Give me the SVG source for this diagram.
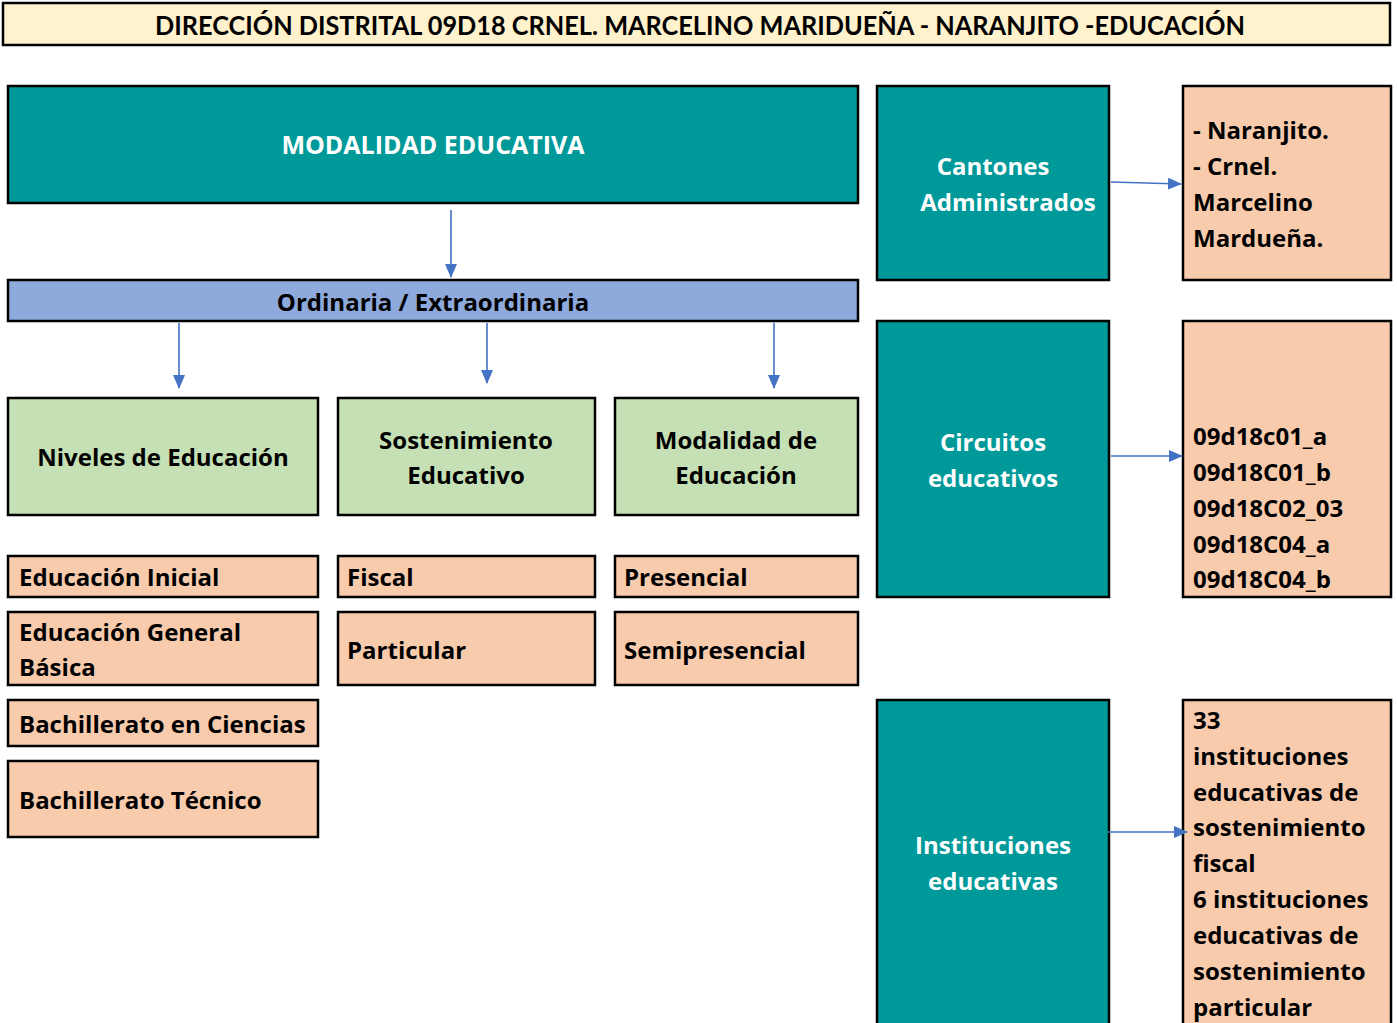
<svg xmlns="http://www.w3.org/2000/svg" width="1397" height="1023" viewBox="0 0 1397 1023">
<style>
.b{stroke:#000;stroke-width:2.5}
.teal{fill:#009999}
.peach{fill:#F8CBAD}
.green{fill:#C5E0B4}
.blue{fill:#8EA9DB}
.t{font-family:"Open Sans",Lato,"Liberation Sans",sans-serif;font-weight:bold;font-size:24px;fill:#000}
.w{fill:#fff}
.c{text-anchor:middle}
.con{stroke:#4472C4;stroke-width:1.6;fill:none;marker-end:url(#ah)}
</style>
<defs>
<marker id="ah" markerWidth="14" markerHeight="12" refX="13" refY="6" orient="auto" markerUnits="userSpaceOnUse" viewBox="0 0 14 12">
<path d="M0,0 L14,6 L0,12 z" fill="#4472C4"/>
</marker>
</defs>
<rect width="1397" height="1023" fill="#fff"/>
<g id="title"><rect class="b" x="3" y="3" width="1387" height="42" fill="#FFF2CC"/><text class="t c" x="700" y="35" style="font-family:Lato,'Liberation Sans',sans-serif;font-size:26px" textLength="1090" lengthAdjust="spacingAndGlyphs">DIRECCIÓN DISTRITAL 09D18 CRNEL. MARCELINO MARIDUEÑA - NARANJITO -EDUCACIÓN</text></g>
<g id="modalidad"><rect class="b teal" x="8" y="86" width="850" height="117"/><text class="t w c" x="433" y="154" style="font-size:25px">MODALIDAD EDUCATIVA</text></g>
<g id="ordinaria"><rect class="b blue" x="8" y="280" width="850" height="41"/><text class="t c" x="433" y="311">Ordinaria / Extraordinaria</text></g>
<g id="niveles"><rect class="b green" x="8" y="398" width="310" height="117"/><text class="t c" x="163" y="466">Niveles de Educación</text></g>
<g id="sostenimiento"><rect class="b green" x="338" y="398" width="257" height="117"/><text class="t c" x="466" y="449">Sostenimiento</text><text class="t c" x="466" y="484">Educativo</text></g>
<g id="modalidad-edu"><rect class="b green" x="615" y="398" width="243" height="117"/><text class="t c" x="736" y="449">Modalidad de</text><text class="t c" x="736" y="484">Educación</text></g>
<g id="inicial"><rect class="b peach" x="8" y="556" width="310" height="41"/><text class="t" x="19" y="586">Educación Inicial</text></g>
<g id="general"><rect class="b peach" x="8" y="612" width="310" height="73"/><text class="t" x="19" y="641">Educación General</text><text class="t" x="19" y="676">Básica</text></g>
<g id="ciencias"><rect class="b peach" x="8" y="700" width="310" height="46"/><text class="t" x="19" y="733">Bachillerato en Ciencias</text></g>
<g id="tecnico"><rect class="b peach" x="8" y="761" width="310" height="76"/><text class="t" x="19" y="809">Bachillerato Técnico</text></g>
<g id="fiscal"><rect class="b peach" x="338" y="556" width="257" height="41"/><text class="t" x="347" y="586">Fiscal</text></g>
<g id="particular"><rect class="b peach" x="338" y="612" width="257" height="73"/><text class="t" x="347" y="659">Particular</text></g>
<g id="presencial"><rect class="b peach" x="615" y="556" width="243" height="41"/><text class="t" x="624" y="586">Presencial</text></g>
<g id="semipresencial"><rect class="b peach" x="615" y="612" width="243" height="73"/><text class="t" x="624" y="659">Semipresencial</text></g>
<g id="cantones"><rect class="b teal" x="877" y="86" width="232" height="194"/><text class="t w c" x="993" y="175">Cantones</text><text class="t w c" x="1008" y="211">Administrados</text></g>
<g id="cantones-list"><rect class="b peach" x="1183" y="86" width="208" height="194"/><text class="t" x="1193" y="139">- Naranjito.</text><text class="t" x="1193" y="175">- Crnel.</text><text class="t" x="1193" y="211">Marcelino</text><text class="t" x="1193" y="247">Mardueña.</text></g>
<g id="circuitos"><rect class="b teal" x="877" y="321" width="232" height="276"/><text class="t w c" x="993" y="451">Circuitos</text><text class="t w c" x="993" y="487">educativos</text></g>
<g id="circuitos-list"><rect class="b peach" x="1183" y="321" width="208" height="276"/><text class="t" x="1193" y="445">09d18c01_a</text><text class="t" x="1193" y="481">09d18C01_b</text><text class="t" x="1193" y="517">09d18C02_03</text><text class="t" x="1193" y="553">09d18C04_a</text><text class="t" x="1193" y="588">09d18C04_b</text></g>
<g id="instituciones"><rect class="b teal" x="877" y="700" width="232" height="340"/><text class="t w c" x="993" y="854">Instituciones</text><text class="t w c" x="993" y="890">educativas</text></g>
<g id="instituciones-list"><rect class="b peach" x="1183" y="700" width="208" height="340"/><text class="t" x="1193" y="729">33</text><text class="t" x="1193" y="765">instituciones</text><text class="t" x="1193" y="801">educativas de</text><text class="t" x="1193" y="836">sostenimiento</text><text class="t" x="1193" y="872">fiscal</text><text class="t" x="1193" y="908">6 instituciones</text><text class="t" x="1193" y="944">educativas de</text><text class="t" x="1193" y="980">sostenimiento</text><text class="t" x="1193" y="1016">particular</text></g>
<g id="connectors">
<path class="con" d="M451,210 V277"/>
<path class="con" d="M179,323 V388"/>
<path class="con" d="M487,323 V383"/>
<path class="con" d="M774,323 V388"/>
<path class="con" d="M1111,182 L1181,184"/>
<path class="con" d="M1111,456 H1182"/>
<path class="con" d="M1108,832 H1187"/>
</g>
</svg>
